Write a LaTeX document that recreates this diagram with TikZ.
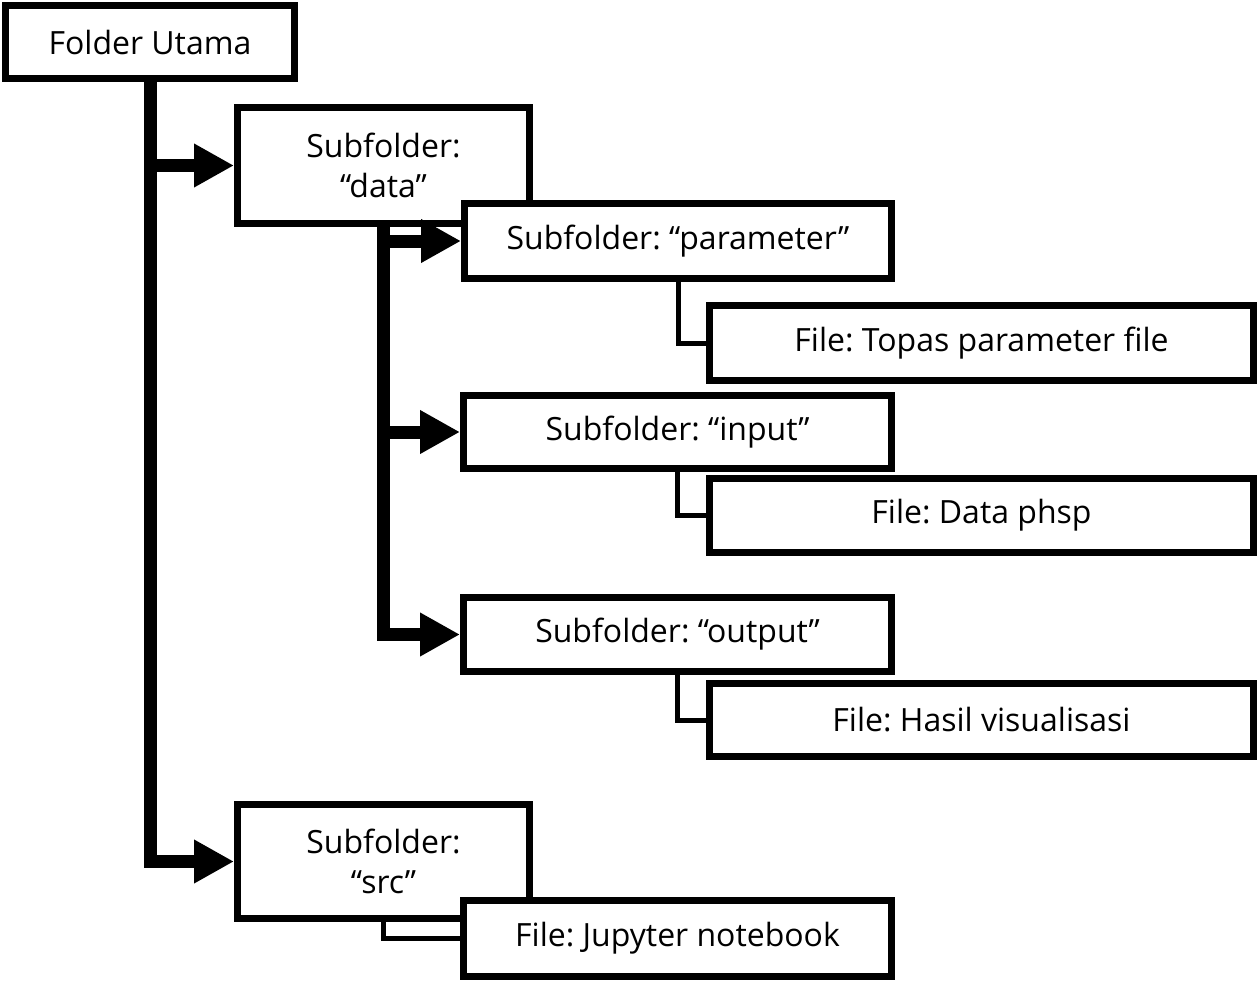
\documentclass[tikz,border=0pt]{standalone}
\usepackage{fontspec}
\setmainfont{Open Sans}
\frenchspacing
\usetikzlibrary{arrows.meta}
\begin{document}
\begin{tikzpicture}[x=1pt,y=-1pt,
  box/.style={draw=black, fill=white, line width=7pt, inner sep=0pt, align=center,
    font=\fontsize{32}{40}\selectfont},
  trunk/.style={line width=13pt, line join=miter},
  tip/.style={-{Triangle[length=40pt,width=41pt]}},
  thinline/.style={line width=5pt, line join=miter}]
\useasboundingbox (0,0) rectangle (1260,980);
% boxes
\node[box, minimum width=289pt, minimum height=73pt] (folder) at (150,42) {Folder Utama};
\node[box, minimum width=292pt, minimum height=116pt] (data) at (383.5,165.5) {Subfolder:\\“data”};
\node[box, minimum width=427pt, minimum height=75pt] (param) at (678,241) {Subfolder: “parameter”};
\node[box, minimum width=544pt, minimum height=75pt] (file1) at (981.5,343) {File: Topas parameter file};
\node[box, minimum width=428pt, minimum height=73pt] (input) at (677.5,432) {Subfolder: “input”};
\node[box, minimum width=544pt, minimum height=74pt] (file2) at (981.5,515.5) {File: Data phsp};
\node[box, minimum width=428pt, minimum height=74pt] (output) at (677.5,634.5) {Subfolder: “output”};
\node[box, minimum width=544pt, minimum height=73pt] (file3) at (981.5,720) {File: Hasil visualisasi};
\node[box, minimum width=292pt, minimum height=114pt] (src) at (383.5,861.5) {Subfolder:\\“src”};
\node[box, minimum width=428pt, minimum height=76pt] (jupyter) at (677.5,938.5) {File: Jupyter notebook};
% main trunk
\draw[trunk, tip] (folder.south) |- (src.west);
\draw[trunk, tip] (folder.south |- data.west) -- (data.west);
% data trunk
\draw[trunk, tip] (data.south) |- (output.west);
\draw[trunk, tip] (data.south |- param.west) -- (param.west);
\draw[trunk, tip] (data.south |- input.west) -- (input.west);
% file links
\draw[thinline] (param.south) |- (file1.west);
\draw[thinline] (input.south) |- (file2.west);
\draw[thinline] (output.south) |- (file3.west);
\draw[thinline] (src.south) |- (jupyter.west);
\end{tikzpicture}
\end{document}
